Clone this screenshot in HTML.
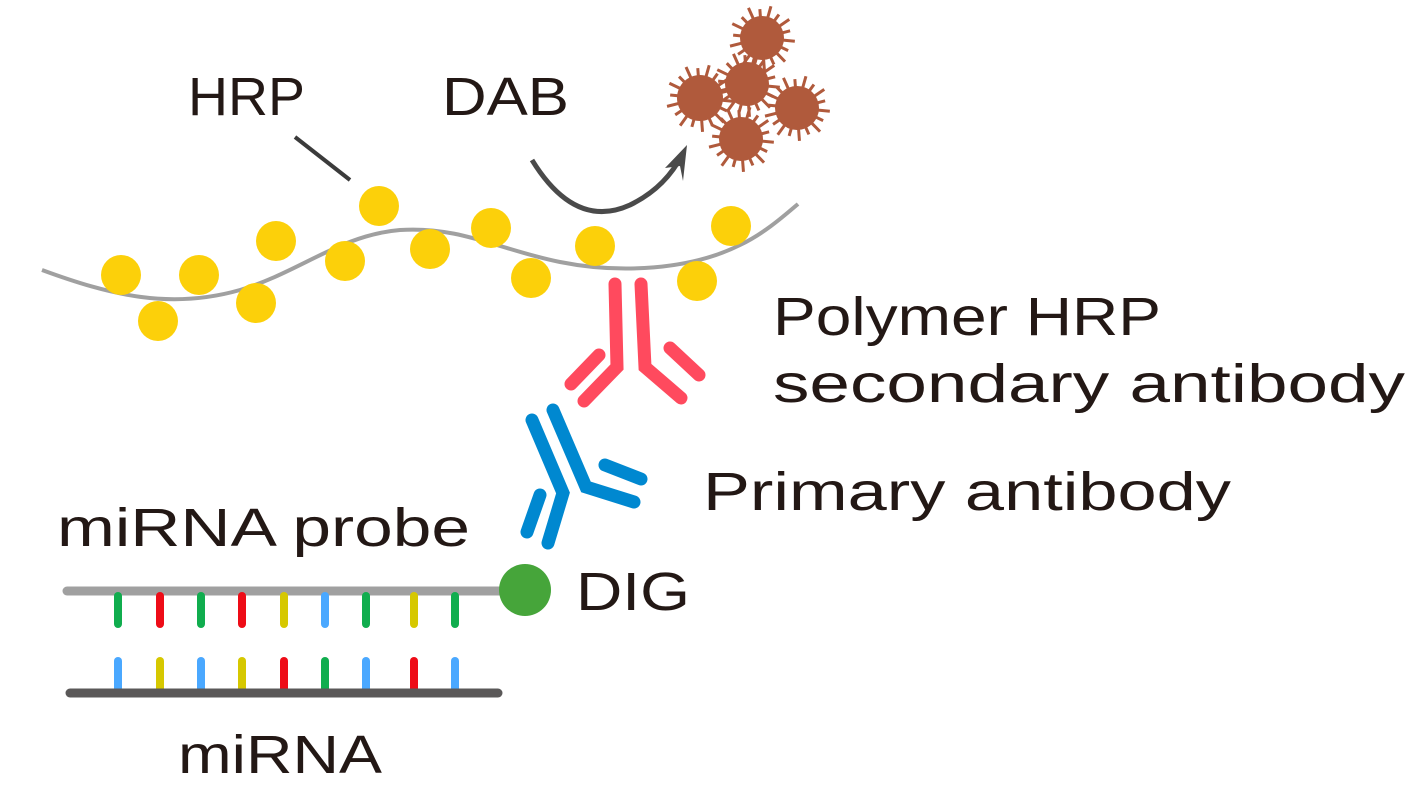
<!DOCTYPE html>
<html><head><meta charset="utf-8"><style>
html,body{margin:0;padding:0;background:#fff;}
svg{display:block;}
text{font-family:"Liberation Sans",sans-serif;fill:#231815;font-size:54px;}
</style></head><body>
<svg id="s" width="1425" height="800" viewBox="0 0 1425 800" xmlns="http://www.w3.org/2000/svg">
<g id="spk" stroke="#b05a3c" stroke-width="3" stroke-linecap="butt"></g>
<g fill="#b05a3c">
<circle cx="762" cy="38" r="22"/>
<circle cx="700" cy="98" r="23"/>
<circle cx="747" cy="84" r="22"/>
<circle cx="797" cy="108" r="22"/>
<circle cx="741" cy="139" r="22"/>
</g>
<path d="M42,270 C110,295 170,310 240,290 C300,272 340,235 400,230 C460,226 500,250 560,262 C620,274 690,270 740,245 C765,233 785,215 798,204" fill="none" stroke="#a0a0a0" stroke-width="4"/>
<g fill="#fcd00a">
<circle cx="121" cy="275" r="20"/><circle cx="158" cy="321" r="20"/><circle cx="199" cy="275" r="20"/>
<circle cx="256" cy="303" r="20"/><circle cx="276" cy="241" r="20"/><circle cx="345" cy="261" r="20"/>
<circle cx="379" cy="206" r="20"/><circle cx="430" cy="249" r="20"/><circle cx="491" cy="228" r="20"/>
<circle cx="531" cy="278" r="20"/><circle cx="595" cy="246" r="20"/><circle cx="697" cy="281" r="20"/>
<circle cx="731" cy="226" r="20"/>
</g>
<line x1="295" y1="137" x2="350" y2="180" stroke="#3b3b3b" stroke-width="4"/>
<path d="M532,160 Q575,230 630,205 Q665,188 682,155" fill="none" stroke="#4a4a4a" stroke-width="5"/>
<path d="M687,145 L665,168 L680,166 L683,181 Z" fill="#4a4a4a"/>
<g stroke="#ff4a5e" stroke-width="13" stroke-linecap="round" fill="none">
<polyline points="615,284 617,367 584,401"/>
<polyline points="641,284 645,367 681,398"/>
<line x1="599" y1="355" x2="571" y2="384"/>
<line x1="670" y1="348" x2="699" y2="375"/>
</g>
<g stroke="#0088d0" stroke-width="13" stroke-linecap="round" fill="none">
<polyline points="532,420 563,493 548,543"/>
<polyline points="553,410 586,487 634,502"/>
<line x1="540" y1="495" x2="527" y2="532"/>
<line x1="605" y1="465" x2="641" y2="479"/>
</g>
<line x1="67" y1="591" x2="510" y2="591" stroke="#a0a0a0" stroke-width="9" stroke-linecap="round"/>
<g stroke-width="8" stroke-linecap="round">
<line x1="118" y1="596" x2="118" y2="624" stroke="#10ad4e"/>
<line x1="160" y1="596" x2="160" y2="624" stroke="#ee0c17"/>
<line x1="201" y1="596" x2="201" y2="624" stroke="#10ad4e"/>
<line x1="242" y1="596" x2="242" y2="624" stroke="#ee0c17"/>
<line x1="284" y1="596" x2="284" y2="624" stroke="#d6c800"/>
<line x1="325" y1="596" x2="325" y2="624" stroke="#4aa8ff"/>
<line x1="366" y1="596" x2="366" y2="624" stroke="#10ad4e"/>
<line x1="414" y1="596" x2="414" y2="624" stroke="#d6c800"/>
<line x1="455" y1="596" x2="455" y2="624" stroke="#10ad4e"/>
<line x1="118" y1="661" x2="118" y2="690" stroke="#4aa8ff"/>
<line x1="160" y1="661" x2="160" y2="690" stroke="#d6c800"/>
<line x1="201" y1="661" x2="201" y2="690" stroke="#4aa8ff"/>
<line x1="242" y1="661" x2="242" y2="690" stroke="#d6c800"/>
<line x1="284" y1="661" x2="284" y2="690" stroke="#ee0c17"/>
<line x1="325" y1="661" x2="325" y2="690" stroke="#10ad4e"/>
<line x1="366" y1="661" x2="366" y2="690" stroke="#4aa8ff"/>
<line x1="414" y1="661" x2="414" y2="690" stroke="#ee0c17"/>
<line x1="455" y1="661" x2="455" y2="690" stroke="#4aa8ff"/>
</g>
<line x1="70" y1="693" x2="498" y2="693" stroke="#5a5858" stroke-width="9" stroke-linecap="round"/>
<circle cx="525" cy="590" r="26" fill="#46a53a"/>
<text x="188" y="115" textLength="117" lengthAdjust="spacingAndGlyphs">HRP</text>
<text x="442" y="115" textLength="127" lengthAdjust="spacingAndGlyphs">DAB</text>
<text x="773" y="335" textLength="388" lengthAdjust="spacingAndGlyphs">Polymer HRP</text>
<text x="773" y="402" textLength="632" lengthAdjust="spacingAndGlyphs">secondary antibody</text>
<text x="703" y="510" textLength="528" lengthAdjust="spacingAndGlyphs">Primary antibody</text>
<text x="57" y="546" textLength="413" lengthAdjust="spacingAndGlyphs">miRNA probe</text>
<text x="576" y="610" textLength="114" lengthAdjust="spacingAndGlyphs">DIG</text>
<text x="178" y="773" textLength="204" lengthAdjust="spacingAndGlyphs">miRNA</text>
</svg>
<script>
var g=document.getElementById('spk');
[[762,38,22],[700,98,23],[747,84,22],[797,108,22],[741,139,22]].forEach(function(b){
for(var i=0;i<18;i++){var a=i*Math.PI*2/18+0.1;var r1=b[2]-2,r2=b[2]+(i%2?7:11);
var l=document.createElementNS('http://www.w3.org/2000/svg','line');
l.setAttribute('x1',b[0]+r1*Math.cos(a));l.setAttribute('y1',b[1]+r1*Math.sin(a));
l.setAttribute('x2',b[0]+r2*Math.cos(a));l.setAttribute('y2',b[1]+r2*Math.sin(a));g.appendChild(l);}
});
</script>
</body></html>
